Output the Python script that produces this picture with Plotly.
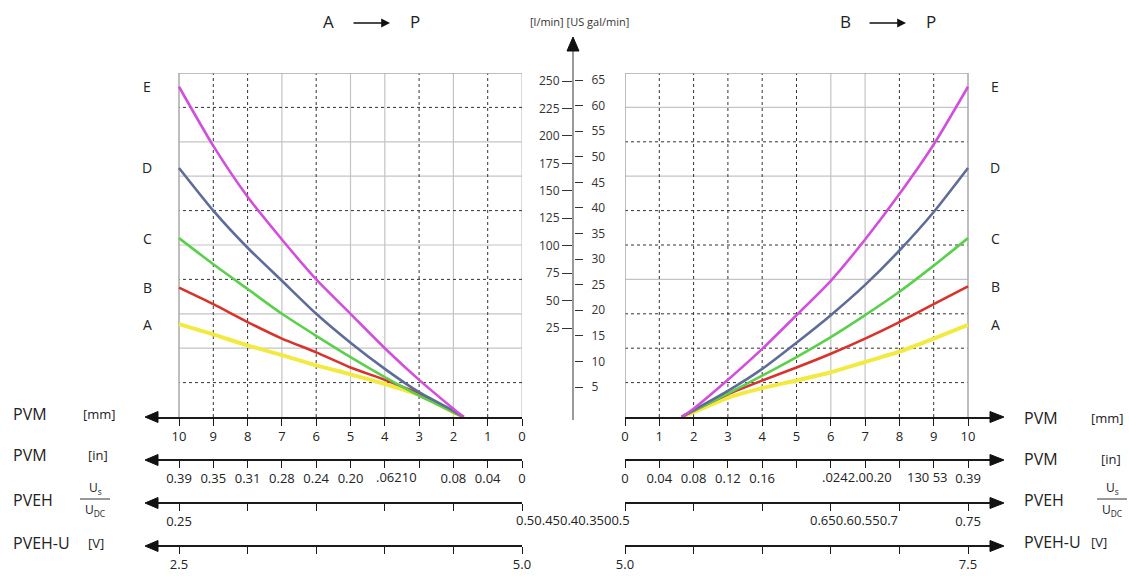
import plotly.graph_objects as go

W, H = 1129, 576
FONT = "Open Sans"

# ---------------- data ----------------
SERIES = ["A", "B", "C", "D", "E"]

# left panel  (A -> P), stroke in mm, flow in l/min
MM_LEFT = [1.7, 2, 3, 4, 5, 6, 7, 8, 9, 10]
A_LEFT = [0, 3.5, 16, 24, 31, 37.5, 45, 52, 60, 67.5]
B_LEFT = [0, 3.5, 17, 27, 36, 47, 57, 69, 82, 94]
C_LEFT = [0, 3.5, 15.5, 29, 43.5, 59, 75, 93, 111, 130]
D_LEFT = [0, 4.5, 18, 35, 54, 75, 99, 123, 150, 181]
E_LEFT = [0, 6, 27, 50, 75, 100, 129, 160, 197, 240]

# right panel (B -> P)
MM_RIGHT = [1.65, 2, 3, 4, 5, 6, 7, 8, 9, 10]
A_RIGHT = [0, 3.5, 14, 21, 26.5, 32.5, 40, 47.5, 57, 67]
B_RIGHT = [0, 4.5, 16.5, 26.5, 36, 46, 57, 69, 82, 95]
C_RIGHT = [0, 4.5, 17, 30, 43.5, 58, 74, 91, 110, 130]
D_RIGHT = [0, 5, 19, 35, 54, 74, 96, 121, 149, 181]
E_RIGHT = [0, 6, 27, 49.5, 74, 99, 129, 162, 198, 240]

LEFT = {"A": A_LEFT, "B": B_LEFT, "C": C_LEFT, "D": D_LEFT, "E": E_LEFT}
RIGHT = {"A": A_RIGHT, "B": B_RIGHT, "C": C_RIGHT, "D": D_RIGHT, "E": E_RIGHT}

# tick values / labels
MM_TICKS = [0, 1, 2, 3, 4, 5, 6, 7, 8, 9, 10]
IN_LABELS_LEFT = ["0", "0.04", "0.08", "", "", "0.20", "0.24", "0.28", "0.31", "0.35", "0.39"]
IN_LABELS_RIGHT = ["0", "0.04", "0.08", "0.12", "0.16", "", "", "", "", "", "0.39"]
PVEH_LEFT_TICKS = [0.25, 0.30, 0.35, 0.40, 0.45, 0.50]
PVEH_LEFT_LABELS = ["0.25", "", "", "", "", ""]
PVEH_RIGHT_TICKS = [0.50, 0.55, 0.60, 0.65, 0.70, 0.75]
PVEH_RIGHT_LABELS = ["", "", "", "", "", "0.75"]
PVEHU_LEFT_TICKS = [2.5, 3.0, 3.5, 4.0, 4.5, 5.0]
PVEHU_LEFT_LABELS = ["2.5", "", "", "", "", "5.0"]
PVEHU_RIGHT_TICKS = [5.0, 5.5, 6.0, 6.5, 7.0, 7.5]
PVEHU_RIGHT_LABELS = ["5.0", "", "", "", "", "7.5"]
LPM_TICKS = [25, 50, 75, 100, 125, 150, 175, 200, 225, 250]
GAL_TICKS = [5, 10, 15, 20, 25, 30, 35, 40, 45, 50, 55, 60, 65]

# ---------------- style / layout constants ----------------
COLORS = {"A": "#f2ea42", "B": "#d8322c", "C": "#5ad04c", "D": "#5e6c98", "E": "#d24fdc"}
WIDTHS = {"A": 4, "B": 2.6, "C": 2.6, "D": 2.6, "E": 2.6}


def px(x):
    return x / W


def py(y):
    return 1 - y / H


L_ZERO, L_TEN, L_START = 522, 179, 150      # pixel columns of left panel
R_ZERO, R_TEN, R_END = 625, 968, 991        # pixel columns of right panel
K = (L_ZERO - L_TEN) / 10.0                 # px per mm
TOP, ROW_MM, ROW_IN, ROW_PVEH, ROW_PVEHU = 73, 417, 460, 503, 546
L_MAX = (L_ZERO - L_START) / K
R_MAX = (R_END - R_ZERO) / K

# central flow axes
LPM_Y25, LPM_Y250 = 328, 81
GAL_Y5, GAL_Y65 = 387, 80
AX_TOP, AX_BOT, AX_X = 50, 420, 573
s_lpm = (LPM_Y25 - LPM_Y250) / 225.0
s_gal = (GAL_Y5 - GAL_Y65) / 60.0


def lpm_at(y):
    return 25 + (LPM_Y25 - y) / s_lpm


def gal_at(y):
    return 5 + (GAL_Y5 - y) / s_gal


fig = go.Figure()
for name in SERIES:
    fig.add_trace(go.Scatter(x=MM_LEFT, y=LEFT[name], mode="lines", xaxis="x", yaxis="y",
                             line=dict(color=COLORS[name], width=WIDTHS[name], shape="spline", smoothing=0.6),
                             showlegend=False, hoverinfo="skip"))
    fig.add_trace(go.Scatter(x=MM_RIGHT, y=RIGHT[name], mode="lines", xaxis="x2", yaxis="y2",
                             line=dict(color=COLORS[name], width=WIDTHS[name], shape="spline", smoothing=0.6),
                             showlegend=False, hoverinfo="skip"))

# empty traces so every scale axis gets its own subplot
for xa, ya in [("x3", "y"), ("x4", "y2"), ("x5", "y"), ("x6", "y2"), ("x7", "y"), ("x8", "y2"),
               ("x9", "y3"), ("x9", "y4")]:
    fig.add_trace(go.Scatter(x=[], y=[], xaxis=xa, yaxis=ya, showlegend=False, hoverinfo="skip"))

tickfont = dict(family=FONT, size=13, color="#222")
base_x = dict(showgrid=False, zeroline=False, showline=True, linecolor="#1a1a1a", linewidth=1.5,
              ticks="outside", ticklen=7, tickwidth=1.2, tickcolor="#1a1a1a", tickfont=tickfont,
              tickangle=0, tickmode="array", fixedrange=True, automargin=False)

left_dom = [px(L_START), px(L_ZERO)]
right_dom = [px(R_ZERO), px(R_END)]

layout_axes = dict(
    xaxis=dict(base_x, domain=left_dom, range=[L_MAX, 0], anchor="y",
               tickvals=MM_TICKS, ticktext=[str(v) for v in MM_TICKS]),
    yaxis=dict(domain=[py(ROW_MM), py(TOP)], range=[0, 250], visible=False, anchor="x",
               fixedrange=True, automargin=False),
    xaxis2=dict(base_x, domain=right_dom, range=[0, R_MAX], anchor="y2",
                tickvals=MM_TICKS, ticktext=[str(v) for v in MM_TICKS]),
    yaxis2=dict(domain=[py(ROW_MM), py(TOP)], range=[0, 250], visible=False, anchor="x2",
                fixedrange=True, automargin=False),
    xaxis3=dict(base_x, domain=left_dom, range=[L_MAX, 0], anchor="free", position=py(ROW_IN),
                tickvals=MM_TICKS, ticktext=IN_LABELS_LEFT),
    xaxis4=dict(base_x, domain=right_dom, range=[0, R_MAX], anchor="free", position=py(ROW_IN),
                tickvals=MM_TICKS, ticktext=IN_LABELS_RIGHT),
    xaxis5=dict(base_x, domain=left_dom, range=[0.5 - 0.025 * L_MAX, 0.5], anchor="free",
                position=py(ROW_PVEH), tickvals=PVEH_LEFT_TICKS, ticktext=PVEH_LEFT_LABELS),
    xaxis6=dict(base_x, domain=right_dom, range=[0.5, 0.5 + 0.025 * R_MAX], anchor="free",
                position=py(ROW_PVEH), tickvals=PVEH_RIGHT_TICKS, ticktext=PVEH_RIGHT_LABELS),
    xaxis7=dict(base_x, domain=left_dom, range=[5 - 0.25 * L_MAX, 5], anchor="free",
                position=py(ROW_PVEHU), tickvals=PVEHU_LEFT_TICKS, ticktext=PVEHU_LEFT_LABELS),
    xaxis8=dict(base_x, domain=right_dom, range=[5, 5 + 0.25 * R_MAX], anchor="free",
                position=py(ROW_PVEHU), tickvals=PVEHU_RIGHT_TICKS, ticktext=PVEHU_RIGHT_LABELS),
    xaxis9=dict(domain=[px(AX_X - 3), px(AX_X + 3)], range=[0, 1], visible=False, anchor="y3",
                fixedrange=True, automargin=False),
    yaxis3=dict(anchor="free", position=px(AX_X), side="left", domain=[py(AX_BOT), py(AX_TOP)],
                range=[lpm_at(AX_BOT), lpm_at(AX_TOP)], tickmode="array", tickvals=LPM_TICKS,
                ticks="outside", ticklen=10, tickwidth=1.2, tickcolor="#333", showline=True,
                linecolor="#9a9a9a", linewidth=2, showgrid=False, zeroline=False, automargin=False,
                tickfont=dict(family=FONT, size=12, color="#333"), fixedrange=True),
    yaxis4=dict(anchor="free", position=px(AX_X + 1), side="right", domain=[py(AX_BOT), py(AX_TOP)],
                range=[gal_at(AX_BOT), gal_at(AX_TOP)], tickmode="array", tickvals=GAL_TICKS,
                ticks="outside", ticklen=8, tickwidth=1.2, tickcolor="#333", showline=False,
                showgrid=False, zeroline=False, ticklabelstandoff=6, automargin=False,
                tickfont=dict(family=FONT, size=12, color="#333"), fixedrange=True),
)

# ---------------- grid (shapes) ----------------
DARK = dict(color="#333333", width=1, dash="dot")
LIGHT = dict(color="#c4c4c4", width=1.2)
BORDER = dict(color="#a8a8a8", width=1.5)

GRID_LEFT_V_DARK = [1, 3, 6, 8, 9]
GRID_LEFT_V_LIGHT = [0, 2, 4, 5, 7]
GRID_LEFT_H_DARK = [25, 100, 150, 225]
GRID_LEFT_H_LIGHT = [50, 75, 125, 175, 200]
GRID_RIGHT_V_DARK = [1, 2, 3, 4, 5, 8, 9]
GRID_RIGHT_V_LIGHT = [6, 7]
GRID_RIGHT_H_DARK = [25, 50, 75, 125, 150, 200]
GRID_RIGHT_H_LIGHT = [100, 175, 225]

shapes = []


def vline(xr, yr, x, ln):
    shapes.append(dict(type="line", xref=xr, yref=yr, x0=x, x1=x, y0=0, y1=250, line=ln, layer="below"))


def hline(xr, yr, y, ln):
    shapes.append(dict(type="line", xref=xr, yref=yr, x0=0, x1=10, y0=y, y1=y, line=ln, layer="below"))


for v in GRID_LEFT_V_LIGHT:
    vline("x", "y", v, LIGHT)
for v in GRID_LEFT_H_LIGHT:
    hline("x", "y", v, LIGHT)
for v in GRID_LEFT_V_DARK:
    vline("x", "y", v, DARK)
for v in GRID_LEFT_H_DARK:
    hline("x", "y", v, DARK)
vline("x", "y", 10, BORDER)
hline("x", "y", 250, BORDER)

for v in GRID_RIGHT_V_LIGHT:
    vline("x2", "y2", v, LIGHT)
for v in GRID_RIGHT_H_LIGHT:
    hline("x2", "y2", v, LIGHT)
for v in GRID_RIGHT_V_DARK:
    vline("x2", "y2", v, DARK)
for v in GRID_RIGHT_H_DARK:
    hline("x2", "y2", v, DARK)
vline("x2", "y2", 0, BORDER)
vline("x2", "y2", 10, BORDER)
hline("x2", "y2", 250, BORDER)


def tri(tip_x, tip_y, base_x, half):
    return dict(type="path", xref="paper", yref="paper",
                path=f"M {px(tip_x)},{py(tip_y)} L {px(base_x)},{py(tip_y - half)} L {px(base_x)},{py(tip_y + half)} Z",
                fillcolor="#111", line=dict(color="#111", width=1))


for row in [ROW_MM, ROW_IN, ROW_PVEH, ROW_PVEHU]:
    shapes.append(tri(145, row, 158, 5.5))
    shapes.append(tri(1004, row, 990, 5.5))
# central axis arrow
shapes.append(dict(type="path", xref="paper", yref="paper",
                   path=f"M {px(AX_X)},{py(37)} L {px(AX_X - 6)},{py(AX_TOP + 1)} L {px(AX_X + 6)},{py(AX_TOP + 1)} Z",
                   fillcolor="#111", line=dict(color="#111", width=1)))
# fraction bars
for cx in [95, 1112]:
    shapes.append(dict(type="line", xref="paper", yref="paper", x0=px(cx - 15), x1=px(cx + 15),
                       y0=py(499), y1=py(499), line=dict(color="#333", width=1)))

# ---------------- annotations ----------------
ann = []


def text(t, x, y, size=13, xanchor="center", xref="paper", yref="paper", xshift=0, color="#222"):
    ann.append(dict(text=t, x=x, y=y, xref=xref, yref=yref, xanchor=xanchor, yanchor="middle",
                    showarrow=False, xshift=xshift, font=dict(family=FONT, size=size, color=color)))


# axis names left
text("PVM", px(11), py(414), 16, "left")
text("[mm]", px(81), py(414), 13, "left")
text("PVM", px(11), py(455), 16, "left")
text("[in]", px(86), py(455), 13, "left")
text("PVEH", px(11), py(500), 16, "left")
text("U<sub>s</sub>", px(95), py(488), 12)
text("U<sub>DC</sub>", px(95), py(510), 12)
text("PVEH-U", px(11), py(543), 16, "left")
text("[V]", px(86), py(543), 13, "left")
# axis names right
text("PVM", px(1022), py(418), 16, "left")
text("[mm]", px(1089), py(418), 13, "left")
text("PVM", px(1022), py(459), 16, "left")
text("[in]", px(1099), py(459), 13, "left")
text("PVEH", px(1022), py(500), 16, "left")
text("U<sub>s</sub>", px(1112), py(488), 12)
text("U<sub>DC</sub>", px(1112), py(510), 12)
text("PVEH-U", px(1022), py(542), 16, "left")
text("[V]", px(1089), py(542), 13, "left")

# crowded tick labels (printed run together in the source)
LBL_Y = 17
text(".06210", 3.65, py(ROW_IN + LBL_Y), 13, xref="x3")
text(".0242.00.20", 6.76, py(ROW_IN + LBL_Y), 13, xref="x4")
text("130 53", 9.48, py(ROW_IN + LBL_Y), 13, "right", xref="x4")
text("0.50.450.40.3500.5", 0.5, py(ROW_PVEH + LBL_Y), 13, "left", xref="x5", xshift=-8)
text("0.650.60.550.7", 0.7, py(ROW_PVEH + LBL_Y), 13, "right", xref="x6", xshift=1)

# curve letters at curve ends
for name in SERIES:
    text(name, 10, LEFT[name][-1], 14, xref="x", yref="y", xshift=-32)
    text(name, 10, RIGHT[name][-1], 14, xref="x2", yref="y2", xshift=27)

# titles
text("A", px(328), py(22), 17)
text("P", px(415), py(22), 17)
text("B", px(845), py(22), 17)
text("P", px(931), py(22), 17)
text("[l/min] [US gal/min]", px(579), py(21), 11, color="#333")
for x0, x1 in [(352, 390), (868, 906)]:
    ann.append(dict(text="", x=px(x1), y=py(23), xref="paper", yref="paper", ax=x0 - x1, ay=0,
                    showarrow=True, arrowhead=2, arrowsize=1.1, arrowwidth=1.6, arrowcolor="#111"))

fig.update_layout(
    width=W, height=H, margin=dict(l=0, r=0, t=0, b=0, autoexpand=False),
    paper_bgcolor="white", plot_bgcolor="rgba(0,0,0,0)",
    shapes=shapes, annotations=ann, showlegend=False,
    **layout_axes,
)

fig.write_html("out.html")
